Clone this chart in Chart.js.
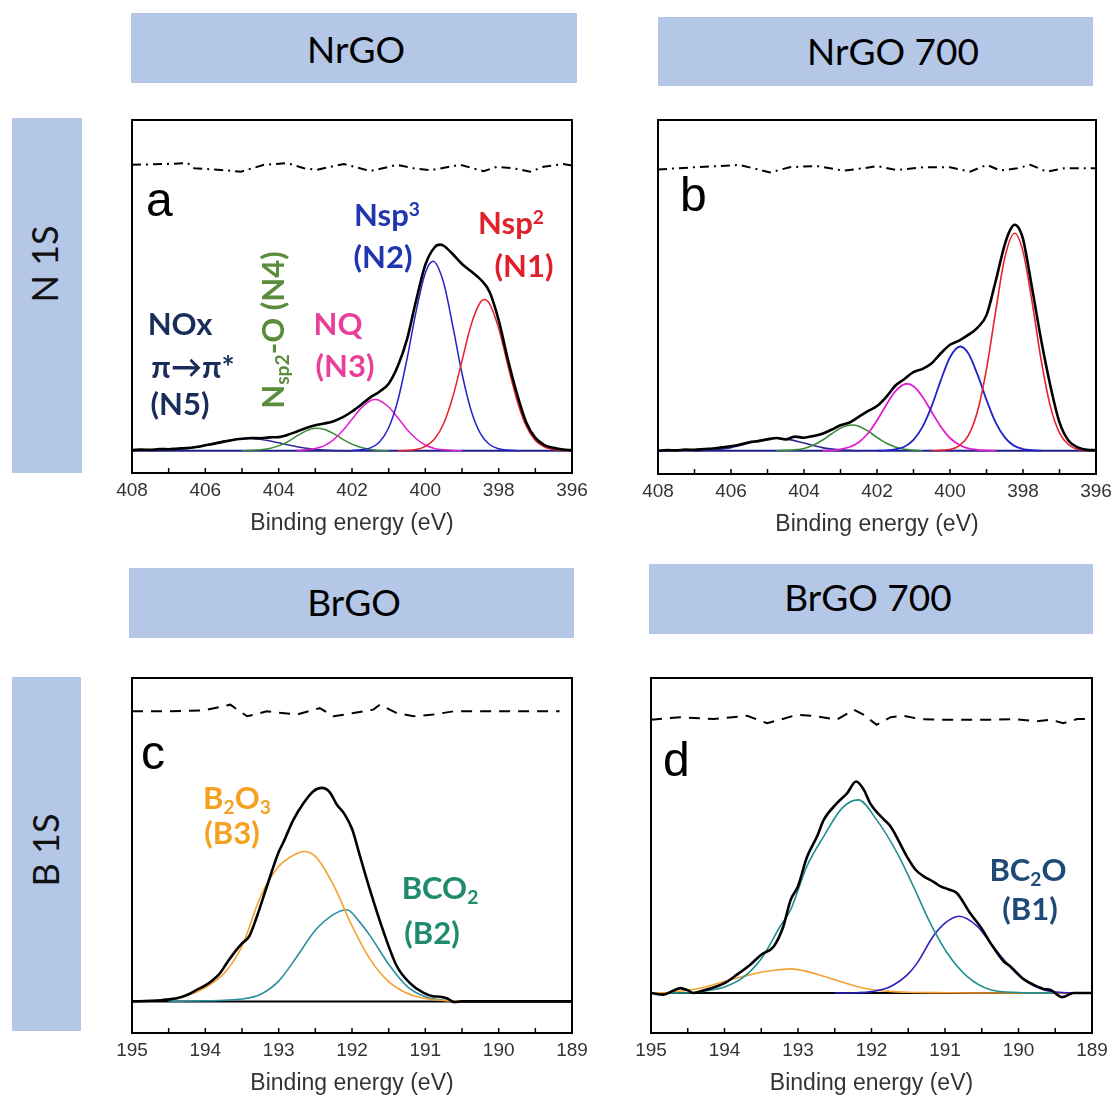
<!DOCTYPE html>
<html>
<head>
<meta charset="utf-8">
<script src="https://cdn.jsdelivr.net/npm/chart.js@4.4.1/dist/chart.umd.min.js"></script>
<style>
  html, body { margin: 0; padding: 0; background: #fff; }
  body { position: relative; width: 1111px; height: 1096px; overflow: hidden; }
  canvas { position: absolute; }
  .box { position: absolute; background: #b4c7e7; }
  .t { position: absolute; white-space: nowrap; line-height: 1; transform: translate(-50%, -50%); }
  .head { font-family: Lato, 'Open Sans', sans-serif; font-size: 37px; color: #000; }
  .side { font-family: Lato, 'Open Sans', sans-serif; font-size: 36px; color: #111; transform: translate(-50%, -50%) rotate(-90deg); }
  .lab { font-family: Lato, 'Open Sans', 'DejaVu Sans', sans-serif; font-weight: 700; font-size: 31px; }
  .let { position: absolute; font-family: 'Liberation Sans', Arial, sans-serif; font-size: 48px; line-height: 1; color: #000; }
  sub, sup { font-size: 0.62em; line-height: 0; position: relative; vertical-align: baseline; }
  sub { top: 0.28em; }
  sup { top: -0.5em; }
</style>
</head>
<body>

<div class="box" style="left:131px;top:13px;width:446px;height:70px"></div>
<div class="box" style="left:658px;top:17px;width:435px;height:69px"></div>
<div class="box" style="left:129px;top:568px;width:445px;height:70px"></div>
<div class="box" style="left:649px;top:564px;width:444px;height:70px"></div>
<div class="box" style="left:12px;top:118px;width:70px;height:355px"></div>
<div class="box" style="left:12px;top:677px;width:69px;height:354px"></div>

<div class="t head" style="left:356px;top:48px">NrGO</div>
<div class="t head" style="left:893px;top:50px">NrGO 700</div>
<div class="t head" style="left:354px;top:601px">BrGO</div>
<div class="t head" style="left:868px;top:596px">BrGO 700</div>
<div class="t side" style="left:44px;top:264px">N 1S</div>
<div class="t side" style="left:45px;top:850px">B 1S</div>

<canvas id="pa" width="500" height="433" style="left:102px;top:110px"></canvas>
<canvas id="pb" width="498" height="434" style="left:628px;top:110px"></canvas>
<canvas id="pc" width="500" height="435" style="left:102px;top:668px"></canvas>
<canvas id="pd" width="501" height="435" style="left:621px;top:668px"></canvas>

<div class="let" style="left:146px;top:176px">a</div>
<div class="let" style="left:680px;top:171px">b</div>
<div class="let" style="left:141px;top:729px">c</div>
<div class="let" style="left:663px;top:736px">d</div>

<div class="t lab" style="left:387px;top:214px;color:#2035b0">Nsp<sup>3</sup></div>
<div class="t lab" style="left:383px;top:256px;color:#2035b0">(N2)</div>
<div class="t lab" style="left:511px;top:222px;color:#e0202a">Nsp<sup>2</sup></div>
<div class="t lab" style="left:524px;top:265px;color:#e0202a">(N1)</div>
<div class="t lab" style="left:338px;top:323px;color:#e8409a">NQ</div>
<div class="t lab" style="left:345px;top:365px;color:#e8409a">(N3)</div>
<div class="t lab" style="left:180px;top:323px;color:#1a2d5a">NOx</div>
<div class="t lab" style="left:193px;top:366px;color:#1a2d5a">π→π*</div>
<div class="t lab" style="left:180px;top:403px;color:#1a2d5a">(N5)</div>
<div class="t lab" style="left:272px;top:330px;color:#5a8c3c;transform:translate(-50%,-50%) rotate(-90deg)">N<sub>sp2</sub>-O (N4)</div>

<div class="t lab" style="left:237px;top:797px;color:#f5a020">B<sub>2</sub>O<sub>3</sub></div>
<div class="t lab" style="left:232px;top:832px;color:#f5a020">(B3)</div>
<div class="t lab" style="left:440px;top:887px;color:#1f8a6e">BCO<sub>2</sub></div>
<div class="t lab" style="left:432px;top:932px;color:#1f8a6e">(B2)</div>
<div class="t lab" style="left:1028px;top:869px;color:#1f4a78">BC<sub>2</sub>O</div>
<div class="t lab" style="left:1030px;top:908px;color:#1f4a78">(B1)</div>

<script>
// inward tick positions (eV)
const ticksN = [407, 406, 405, 404, 403, 402, 401, 400, 399, 398, 397];
const ticksB = [194.5, 194, 193.5, 193, 192.5, 192, 191.5, 191, 190.5, 190, 189.5];

// ---- panel a : NrGO, N 1s ----
const aTotal = [[408,0.002],[407.75,0.004],[407.5,0.003],[407.25,0.006],[407,0.005],[406.75,0.008],[406.5,0.009],[406.25,0.013],[406,0.019],[405.75,0.025],[405.5,0.032],[405.25,0.038],[405,0.042],[404.75,0.045],[404.5,0.044],[404.25,0.047],[404,0.048],[403.75,0.056],[403.5,0.068],[403.25,0.08],[403,0.09],[402.75,0.096],[402.5,0.104],[402.25,0.118],[402,0.138],[401.75,0.162],[401.5,0.188],[401.25,0.208],[401,0.236],[400.75,0.298],[400.5,0.392],[400.25,0.53],[400,0.655],[399.75,0.716],[399.6,0.726],[399.5,0.722],[399.25,0.692],[399,0.658],[398.75,0.632],[398.5,0.604],[398.25,0.56],[398,0.46],[397.75,0.322],[397.5,0.2],[397.25,0.1],[397,0.045],[396.75,0.02],[396.5,0.01],[396.25,0.004],[396,0.002]];
const aN1 = [[400.75,0],[400.5,0.001],[400.25,0.004],[400,0.015],[399.75,0.041],[399.5,0.096],[399.25,0.19],[399,0.317],[398.75,0.444],[398.5,0.523],[398.39,0.533],[398.25,0.518],[398,0.431],[397.75,0.301],[397.5,0.177],[397.25,0.087],[397,0.036],[396.75,0.013],[396.5,0.004],[396.25,0.001],[396,0]];
const aN2 = [[402,0.001],[401.5,0.01],[401.25,0.031],[401,0.081],[400.75,0.177],[400.5,0.323],[400.25,0.492],[400,0.626],[399.79,0.667],[399.5,0.591],[399.25,0.439],[399,0.272],[398.75,0.141],[398.5,0.061],[398.25,0.022],[398,0.007],[397.5,0]];
const aN3 = [[403.5,0.001],[403.25,0.003],[403,0.008],[402.75,0.018],[402.5,0.039],[402.25,0.071],[402,0.111],[401.75,0.15],[401.5,0.176],[401.36,0.18],[401.25,0.177],[401,0.154],[400.75,0.116],[400.5,0.075],[400.25,0.042],[400,0.02],[399.75,0.008],[399.5,0.003],[399.25,0.001],[399,0]];
const aN4 = [[405,0],[404.5,0.003],[404.25,0.008],[404,0.017],[403.75,0.032],[403.5,0.052],[403.25,0.07],[403,0.079],[402.75,0.075],[402.5,0.06],[402.25,0.04],[402,0.023],[401.75,0.011],[401.5,0.004],[401.25,0.001],[401,0]];
const aN5 = [[407.5,0.001],[407,0.002],[406.5,0.008],[406,0.019],[405.5,0.033],[405,0.042],[404.85,0.043],[404.5,0.04],[404,0.028],[403.5,0.014],[403,0.005],[402.5,0.001],[402,0]];
const aResid = [[408,1.007],[407.12,1.01],[406.48,1.013],[406.3,0.995],[405.67,0.99],[405.03,0.983],[404.4,1.007],[403.76,1.013],[403.31,0.995],[402.95,0.99],[402.22,1.01],[401.5,0.985],[400.77,1.007],[400.32,0.995],[399.86,0.988],[399.05,1.007],[398.41,0.985],[398.05,1.0],[397.6,0.995],[397.14,0.983],[396.78,1.0],[396.24,1.01],[396,1.005]];

// ---- panel b : NrGO 700, N 1s ----
const bTotal = [[408,0],[407.75,0.002],[407.5,0.001],[407.25,0.004],[407,0.003],[406.75,0.006],[406.5,0.008],[406.25,0.012],[406,0.016],[405.75,0.022],[405.5,0.03],[405.25,0.034],[405,0.04],[404.75,0.045],[404.5,0.04],[404.25,0.05],[404,0.046],[403.75,0.052],[403.5,0.06],[403.25,0.074],[403,0.09],[402.75,0.1],[402.5,0.12],[402.25,0.14],[402,0.158],[401.75,0.19],[401.5,0.23],[401.25,0.254],[401,0.278],[400.75,0.29],[400.5,0.31],[400.25,0.345],[400,0.375],[399.75,0.39],[399.5,0.41],[399.25,0.435],[399,0.48],[398.75,0.6],[398.5,0.73],[398.35,0.782],[398.23,0.8],[398.1,0.785],[398,0.75],[397.75,0.575],[397.5,0.39],[397.25,0.23],[397,0.1],[396.75,0.035],[396.5,0.012],[396.25,0.003],[396,0.002]];
const bN1 = [[400.5,0],[400,0.004],[399.75,0.017],[399.5,0.053],[399.25,0.138],[399,0.289],[398.75,0.493],[398.5,0.683],[398.23,0.77],[398,0.705],[397.75,0.526],[397.5,0.319],[397.25,0.157],[397,0.063],[396.75,0.021],[396.5,0.005],[396.25,0.001],[396,0]];
const bN2 = [[402,0],[401.75,0.001],[401.5,0.005],[401.25,0.014],[401,0.038],[400.75,0.085],[400.5,0.159],[400.25,0.25],[400,0.331],[399.72,0.369],[399.5,0.345],[399.25,0.271],[399,0.18],[398.75,0.1],[398.5,0.047],[398.25,0.018],[398,0.006],[397.75,0.002],[397.5,0]];
const bN3 = [[403.5,0],[403.25,0.001],[403,0.005],[402.75,0.013],[402.5,0.03],[402.25,0.061],[402,0.107],[401.75,0.161],[401.5,0.21],[401.18,0.237],[401,0.228],[400.75,0.19],[400.5,0.137],[400.25,0.085],[400,0.045],[399.75,0.021],[399.5,0.008],[399.25,0.003],[399,0.001],[398.75,0]];
const bN4 = [[404.75,0],[404.5,0.001],[404.25,0.003],[404,0.008],[403.75,0.019],[403.5,0.037],[403.25,0.059],[403,0.08],[402.69,0.091],[402.5,0.087],[402.25,0.07],[402,0.047],[401.75,0.027],[401.5,0.013],[401.25,0.005],[401,0.002],[400.75,0]];
const bN5 = [[407,0],[406.5,0.003],[406,0.011],[405.5,0.027],[405,0.042],[404.75,0.044],[404.5,0.042],[404,0.027],[403.5,0.011],[403,0.003],[402.5,0]];
const bResid = [[408,0.996],[406.95,1.004],[405.76,1.012],[404.93,0.985],[404.39,1.004],[403.65,1.008],[402.92,0.992],[402.37,1.0],[402,1.008],[401.46,0.994],[400.73,1.004],[400,1.004],[399.45,0.988],[398.99,1.012],[398.62,0.992],[398.16,1.0],[397.8,1.012],[397.34,0.988],[396.88,1.0],[396,1.0]];

// ---- panel c : BrGO, B 1s ----
const cTotal = [[195,0],[194.75,0.002],[194.6,0.004],[194.5,0.007],[194.4,0.01],[194.25,0.022],[194.1,0.042],[194,0.055],[193.9,0.073],[193.8,0.097],[193.7,0.135],[193.6,0.17],[193.5,0.2],[193.4,0.225],[193.3,0.29],[193.16,0.397],[193,0.515],[192.94,0.546],[192.8,0.626],[192.66,0.684],[192.53,0.724],[192.41,0.736],[192.3,0.72],[192.21,0.68],[192.1,0.645],[192,0.595],[191.89,0.5],[191.75,0.38],[191.57,0.24],[191.39,0.122],[191.21,0.063],[191.03,0.03],[190.9,0.018],[190.8,0.016],[190.7,0.01],[190.6,-0.003],[190.5,0],[189,0]];
const cB3 = [[195,0],[194.75,0.002],[194.5,0.008],[194.25,0.02],[194,0.048],[193.75,0.095],[193.5,0.19],[193.25,0.36],[193,0.465],[192.75,0.51],[192.66,0.517],[192.5,0.5],[192.25,0.4],[192,0.26],[191.75,0.144],[191.5,0.068],[191.25,0.028],[191,0.01],[190.75,0.003],[190.5,0]];
const cB2 = [[194.5,0],[194,0.002],[193.75,0.004],[193.5,0.008],[193.25,0.024],[193,0.07],[192.75,0.155],[192.5,0.245],[192.25,0.3],[192.07,0.316],[191.9,0.275],[191.75,0.225],[191.5,0.128],[191.25,0.052],[191,0.016],[190.75,0.004],[190.5,0]];
const cResid = [[195,1.0],[194.48,1.0],[194.02,1.003],[193.66,1.023],[193.43,0.983],[193.16,1.0],[192.75,0.989],[192.44,1.011],[192.25,0.983],[191.98,0.994],[191.71,1.006],[191.62,1.023],[191.39,0.994],[191.16,0.983],[190.89,0.989],[190.62,1.0],[189.17,1.0]];

// ---- panel d : BrGO 700, B 1s ----
const dTotal = [[195,0],[194.83,-0.006],[194.7,0.008],[194.6,0.018],[194.5,0.01],[194.42,0],[194.3,0.008],[194.1,0.025],[194,0.036],[193.83,0.067],[193.65,0.103],[193.5,0.14],[193.33,0.17],[193.2,0.243],[193.1,0.34],[193,0.39],[192.88,0.495],[192.74,0.572],[192.65,0.632],[192.47,0.693],[192.33,0.73],[192.21,0.772],[192.1,0.74],[192.02,0.693],[191.83,0.633],[191.74,0.608],[191.52,0.499],[191.4,0.45],[191.29,0.426],[191.15,0.405],[191.06,0.389],[190.95,0.378],[190.84,0.365],[190.66,0.292],[190.5,0.235],[190.38,0.182],[190.2,0.115],[190.11,0.097],[189.95,0.055],[189.84,0.036],[189.66,0.015],[189.57,0.012],[189.41,-0.015],[189.25,0],[189,0]];
const dB3 = [[195,0],[194.75,0.002],[194.5,0.01],[194.25,0.023],[194,0.042],[193.75,0.06],[193.5,0.076],[193.25,0.085],[193.1,0.088],[192.9,0.08],[192.65,0.061],[192.4,0.04],[192.2,0.024],[192,0.013],[191.75,0.006],[191.5,0.003],[191,0.001],[190.5,0],[189,0]];
const dB2 = [[194.75,0],[194.4,0.002],[194.2,0.01],[194,0.022],[193.75,0.056],[193.5,0.125],[193.25,0.24],[193.1,0.304],[192.88,0.462],[192.65,0.572],[192.4,0.675],[192.18,0.705],[191.93,0.632],[191.65,0.511],[191.43,0.389],[191.2,0.255],[190.97,0.146],[190.7,0.061],[190.38,0.012],[190,0.002],[189.5,0]];
const dB1 = [[192.5,0],[192.2,0.001],[192,0.005],[191.74,0.024],[191.5,0.07],[191.38,0.109],[191.16,0.207],[191,0.255],[190.81,0.28],[190.56,0.243],[190.38,0.182],[190.16,0.109],[189.93,0.049],[189.66,0.012],[189.4,0.002],[189,0]];
const dResid = [[195,0.998],[194.6,1.007],[194.15,1.0],[193.69,1.012],[193.42,0.985],[193.24,0.998],[193.01,1.016],[192.74,1.01],[192.47,0.998],[192.24,1.034],[192.11,1.016],[191.93,0.979],[191.74,1.007],[191.56,1.012],[191.34,1.0],[191.11,0.998],[190.75,0.998],[190.38,0.998],[190.07,1.0],[189.75,0.992],[189.57,0.998],[189.39,0.985],[189.2,1.0],[189,1.0]];

const pts = arr => arr.map(([x, y]) => ({x: x, y: y}));

function line(arr, color, width, extra) {
    return Object.assign({
        data: pts(arr),
        borderColor: color,
        backgroundColor: color,
        borderWidth: width,
        pointRadius: 0,
        cubicInterpolationMode: 'monotone',
        fill: false
    }, extra || {});
}

function framePlugin(tickVals) {
    return {
        id: 'frame',
        afterDatasetsDraw(chart) {
            const ctx = chart.ctx, a = chart.chartArea, x = chart.scales.x;
            ctx.save();
            ctx.strokeStyle = '#000';
            ctx.lineWidth = 2;
            ctx.strokeRect(a.left, a.top, a.right - a.left, a.bottom - a.top);
            ctx.lineWidth = 1.5;
            tickVals.forEach(v => {
                const px = x.getPixelForValue(v);
                ctx.beginPath();
                ctx.moveTo(px, a.bottom);
                ctx.lineTo(px, a.bottom - 5);
                ctx.stroke();
            });
            ctx.restore();
        }
    };
}

function panel(id, datasets, xmin, xmax, step, ymin, ymax, tickVals) {
    return new Chart(document.getElementById(id).getContext('2d'), {
        type: 'line',
        data: { datasets: datasets },
        options: {
            responsive: false,
            animation: false,
            layout: { padding: { left: 30, right: 30, top: 10, bottom: 0 } },
            plugins: { legend: { display: false }, tooltip: { enabled: false } },
            scales: {
                x: {
                    type: 'linear',
                    reverse: true,
                    min: xmin,
                    max: xmax,
                    grid: { display: false, drawTicks: false },
                    border: { display: false },
                    ticks: {
                        stepSize: step,
                        maxRotation: 0,
                        autoSkip: false,
                        padding: 6,
                        color: '#333',
                        font: { family: "'Liberation Sans', Arial, sans-serif", size: 19 }
                    },
                    title: {
                        display: true,
                        text: 'Binding energy (eV)',
                        color: '#333',
                        padding: { top: 0, bottom: 6 },
                        font: { family: "'Liberation Sans', Arial, sans-serif", size: 23 }
                    },
                    afterFit: s => { s.height = 70; }
                },
                y: { display: false, min: ymin, max: ymax }
            }
        },
        plugins: [framePlugin(tickVals)]
    });
}

const dashDot = { borderDash: [9, 5, 2, 5], cubicInterpolationMode: 'default', tension: 0 };
const dashed = { borderDash: [11, 8], cubicInterpolationMode: 'default', tension: 0 };
const flat = { cubicInterpolationMode: 'default', tension: 0 };

let chartA = panel('pa', [
    line(aTotal, '#000', 2.6),
    line(aN1, '#e8202a', 1.5),
    line(aN2, '#2222c8', 1.5),
    line(aN3, '#e020d0', 1.5),
    line(aN4, '#3a8a3a', 1.5),
    line(aN5, '#2a2a90', 1.5),
    line([[408, 0], [396, 0]], '#1e1e8c', 2, flat),
    line(aResid, '#000', 2, dashDot)
], 396, 408, 2, -0.0785, 1.165, ticksN);

let chartB = panel('pb', [
    line(bTotal, '#000', 2.6),
    line(bN1, '#e8202a', 1.6),
    line(bN2, '#2222c8', 1.8),
    line(bN3, '#e020d0', 1.8),
    line(bN4, '#3a8a3a', 1.6),
    line(bN5, '#2a2a90', 1.6),
    line([[408, 0], [396, 0]], '#1e1e8c', 2, flat),
    line(bResid, '#000', 2, dashDot)
], 396, 408, 2, -0.0825, 1.171, ticksN);

let chartC = panel('pc', [
    line(cTotal, '#000', 2.6),
    line(cB3, '#f5a030', 1.6),
    line(cB2, '#2a8fa0', 1.6),
    line([[195, 0], [189, 0]], '#000', 2, flat),
    line(cResid, '#000', 2, dashed)
], 189, 195, 1, -0.109, 1.115, ticksB);

let chartD = panel('pd', [
    line(dTotal, '#000', 2.6),
    line(dB2, '#20908f', 1.6),
    line(dB1, '#2a20c0', 1.6),
    line(dB3, '#f5a030', 1.6),
    line([[195, 0], [189, 0]], '#000', 2, flat),
    line(dResid, '#000', 2, dashed)
], 189, 195, 1, -0.146, 1.15, ticksB);
</script>
</body>
</html>
